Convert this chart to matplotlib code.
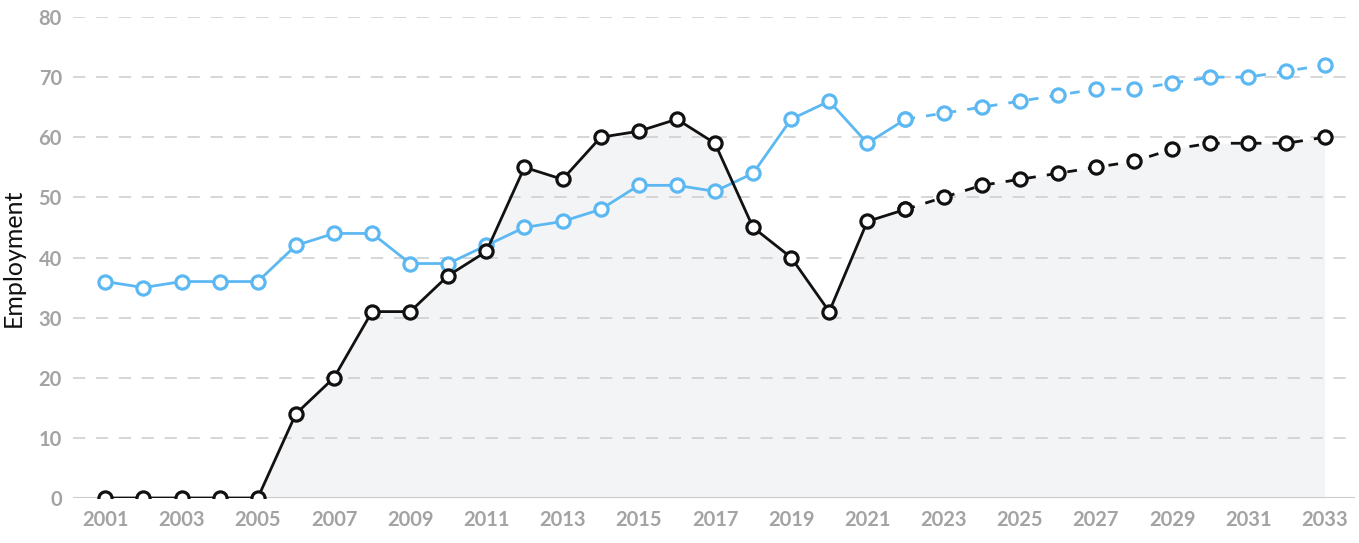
import numpy as np
import matplotlib
matplotlib.use("Agg")
import matplotlib.pyplot as plt

plt.rcParams["font.family"] = ["Lato", "DejaVu Sans"]

# ── data ──────────────────────────────────────────────────────────────
years = list(range(2001, 2034))
last_actual = 2022  # solid up to here, dashed projection after

blue_values = [36, 35, 36, 36, 36, 42, 44, 44, 39, 39, 42, 45, 46, 48, 52, 52,
               51, 54, 63, 66, 59, 63, 64, 65, 66, 67, 68, 68, 69, 70, 70, 71, 72]
black_values = [0, 0, 0, 0, 0, 14, 20, 31, 31, 37, 41, 55, 53, 60, 61, 63,
                59, 45, 40, 31, 46, 48, 50, 52, 53, 54, 55, 56, 58, 59, 59, 59, 60]

y_ticks = [0, 10, 20, 30, 40, 50, 60, 70, 80]
x_ticks = list(range(2001, 2034, 2))

BLUE = "#5cb8f2"
BLACK = "#111111"
FILL = "#f3f4f6"
GRID = "#cccccc"
TICK = "#a3a3a3"

years = np.array(years)
blue_values = np.array(blue_values)
black_values = np.array(black_values)

fig = plt.figure(figsize=(13.59, 5.43), dpi=100)
ax = fig.add_axes([73 / 1359, 1 - 498 / 543, 1282 / 1359, 481 / 543])

# shaded area under the black series
ax.fill_between(years, 0, black_values, color=FILL, lw=0, zorder=0)

# gridlines
for t in y_ticks[1:]:
    ax.axhline(t, color=GRID, lw=1.1, ls=(0, (8, 7)), zorder=1)
ax.axhline(0, color=GRID, lw=1.5, zorder=1)

actual = years <= last_actual
proj = years >= last_actual
marker_kw = dict(marker="o", markersize=9.5, markerfacecolor="white",
                 markeredgewidth=2.3)

for vals, col in [(blue_values, BLUE), (black_values, BLACK)]:
    ax.plot(years[actual], vals[actual], color=col, lw=2.0,
            markeredgecolor=col, zorder=3, **marker_kw)
    ax.plot(years[proj], vals[proj], color=col, lw=2.0, dashes=(3.5, 4),
            markeredgecolor=col, zorder=3, **marker_kw)

ax.set_xlim(2000.15, 2033.8)
ax.set_ylim(0, 80)
ax.set_xticks(x_ticks)
ax.set_yticks(y_ticks)
ax.tick_params(axis="both", length=0, labelsize=14.5, labelcolor=TICK)
ax.tick_params(axis="x", pad=9)
ax.tick_params(axis="y", pad=8)
for lab in ax.get_xticklabels() + ax.get_yticklabels():
    lab.set_fontweight("bold")
for s in ax.spines.values():
    s.set_visible(False)

ax.set_ylabel("Employment", fontsize=18, color="#111111", labelpad=10)

fig.savefig("out.png", dpi=100)
